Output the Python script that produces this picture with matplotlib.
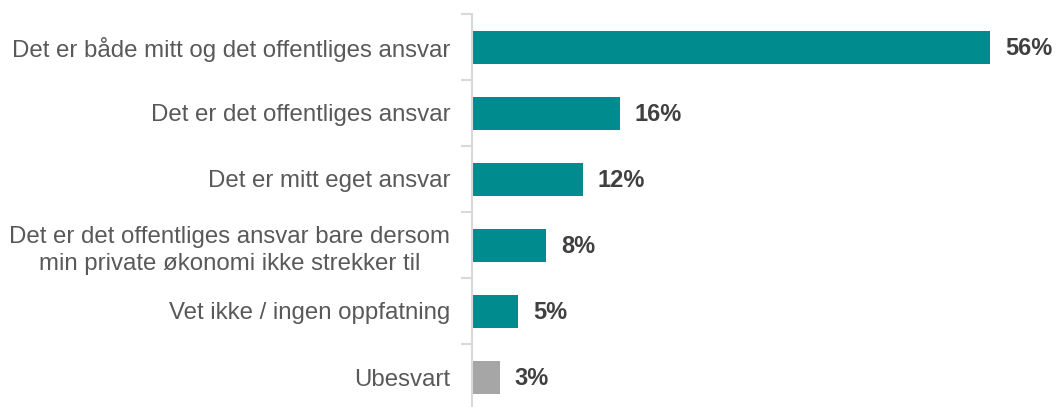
import matplotlib
matplotlib.use("Agg")
import matplotlib.pyplot as plt

categories = [
    "Det er både mitt og det offentliges ansvar",
    "Det er det offentliges ansvar",
    "Det er mitt eget ansvar",
    "Det er det offentliges ansvar bare dersom\nmin private økonomi ikke strekker til",
    "Vet ikke / ingen oppfatning",
    "Ubesvart",
]
values = [56, 16, 12, 8, 5, 3]
bar_colors = ["#008C8F"] * 5 + ["#A6A6A6"]

plt.rcParams['font.family'] = ['Liberation Sans', 'DejaVu Sans']

W, H = 1056, 407
fig = plt.figure(figsize=(W / 100, H / 100), dpi=100)
ax = fig.add_axes([472 / W, -3 / H, (W - 472) / W, (H - 14 + 3) / H])

y = list(range(len(categories)))
ax.barh(y, values, height=0.5, color=bar_colors)

for yi, v in zip(y, values):
    ax.text(v + 1.6, yi + 0.03, f"{v}%", va="center", ha="left",
            fontsize=17, fontweight="bold", color="#404040")

ax.set_xlim(0, (W - 472) / 9.25)
ax.set_ylim(len(categories) - 0.5, -0.5)

ax.set_yticks(y)
ax.set_yticklabels(categories, fontsize=17.3, color="#595959", linespacing=1.35)
ax.tick_params(axis="y", which="major", length=0, pad=15.5)
ax.set_yticks([i + 0.5 for i in range(-1, len(categories))], minor=True)
ax.tick_params(axis="y", which="minor", length=8, color="#D9D9D9", width=1.5)
for lbl in ax.get_yticklabels():
    lbl.set_multialignment("center")

ax.set_xticks([])
for s in ["top", "right", "bottom"]:
    ax.spines[s].set_visible(False)
ax.spines["left"].set_color("#D9D9D9")
ax.spines["left"].set_linewidth(1.5)

fig.savefig("out.png", dpi=100)
